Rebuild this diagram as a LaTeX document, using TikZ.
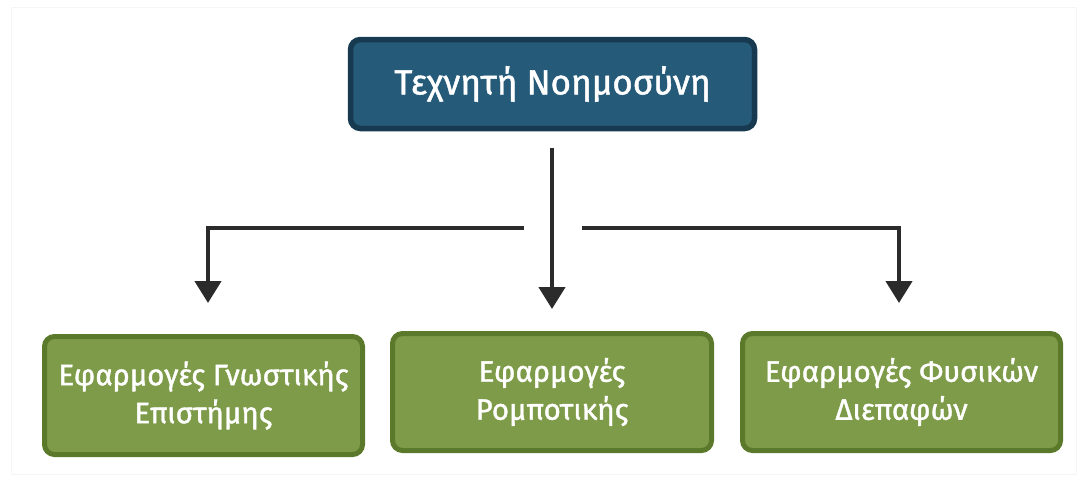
\documentclass[tikz,border=0pt]{standalone}
\usepackage{fontspec}
\setmainfont{Fira Sans}
\newfontfamily\boxfont{Fira Sans}[FakeBold=1.3]
\usetikzlibrary{arrows.meta}
\definecolor{topfill}{HTML}{255A79}
\definecolor{topline}{HTML}{173A50}
\definecolor{leaffill}{HTML}{7D9B48}
\definecolor{leafline}{HTML}{5A792B}
\definecolor{wire}{HTML}{2B2B2B}
\begin{document}
\begin{tikzpicture}[x=1pt,y=-1pt,
  rootbox/.style={draw=topline,fill=topfill,line width=5.5pt,rounded corners=10pt,
    text=white,font=\boxfont\fontsize{35}{42}\selectfont,align=center},
  leafbox/.style={draw=leafline,fill=leaffill,line width=5pt,rounded corners=10pt,
    text=white,font=\boxfont\fontsize{29.5}{38}\selectfont,align=center},
  wirestyle/.style={draw=wire,line width=4.5pt},
  tip/.style={-{Triangle[length=22pt,width=26pt]}}]
\useasboundingbox (0,0) rectangle (1081,479);
\draw[draw=black!4,line width=1pt] (11,7) rectangle (1076,474);
% boxes
\node[rootbox,minimum width=404pt,minimum height=89pt] (ai) at (552.5,84) {Τεχνητή Νοημοσύνη};
\node[leafbox,minimum width=318pt,minimum height=118pt] (cog) at (203.5,395.5) {Εφαρμογές Γνωστικής\\Επιστήμης};
\node[leafbox,minimum width=319pt,minimum height=117pt] (rob) at (552,392) {Εφαρμογές\\Ρομποτικής};
\node[leafbox,minimum width=318pt,minimum height=117pt] (phy) at (901.5,392) {Εφαρμογές Φυσικών\\Διεπαφών};
% connectors
\coordinate (stem) at (552,148);
\coordinate (lgap) at (524,228);
\coordinate (rgap) at (582,228);
\coordinate (lend) at (208,303);
\coordinate (mend) at (552,309);
\coordinate (rend) at (899,303);
\draw[wirestyle,tip] (stem) -- (mend);
\draw[wirestyle,tip] (lgap) -| (lend);
\draw[wirestyle,tip] (rgap) -| (rend);
\end{tikzpicture}
\end{document}
